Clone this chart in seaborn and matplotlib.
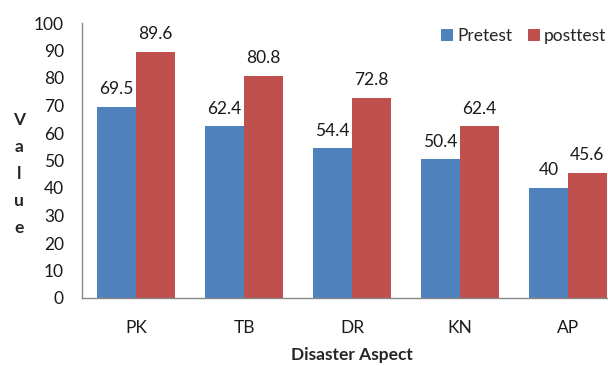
import matplotlib
matplotlib.use("Agg")
import matplotlib.pyplot as plt
import seaborn as sns
import pandas as pd

categories = ["PK", "TB", "DR", "KN", "AP"]
pretest = [69.5, 62.4, 54.4, 50.4, 40]
posttest = [89.6, 80.8, 72.8, 62.4, 45.6]
series_names = ["Pretest", "posttest"]
colors = ["#4F81BD", "#C0504D"]
y_ticks = list(range(0, 101, 10))

df = pd.DataFrame({
    "cat": categories * 2,
    "val": pretest + posttest,
    "series": [series_names[0]] * len(categories) + [series_names[1]] * len(categories),
})

sns.set_style("white")
plt.rcParams["font.family"] = ["Lato", "DejaVu Sans"]

fig = plt.figure(figsize=(6.08, 3.66), dpi=100)
ax = fig.add_axes([82/608, 68/366, 540/608, 275/366])
sns.barplot(data=df, x="cat", y="val", hue="series", palette=colors,
            width=0.72, saturation=1, ax=ax, errorbar=None, linewidth=0)

for cont, vals in zip(ax.containers, [pretest, posttest]):
    ax.bar_label(cont, labels=[f"{v:g}" for v in vals], padding=7, fontsize=12.5, color="#1a1a1a")

ax.set_ylim(0, 100)
ax.set_yticks(y_ticks)
ax.tick_params(axis="both", length=0, labelsize=12.5, colors="#1a1a1a")
ax.tick_params(axis="y", pad=13)
ax.tick_params(axis="x", pad=16)
ax.set_xlim(-0.5, 4.5)
for s in ["top", "right"]:
    ax.spines[s].set_visible(False)
for s in ["left", "bottom"]:
    ax.spines[s].set_color("#888888")
    ax.spines[s].set_linewidth(1)

ax.set_xlabel("Disaster Aspect", fontsize=12.5, fontweight="bold", labelpad=8)
ax.set_ylabel("")
fig.text(19/608, 1 - 174/366, "V\na\nl\nu\ne", fontsize=12.5, fontweight="bold",
         ha="center", va="center", linespacing=1.85)

leg = ax.legend(loc="upper right", bbox_to_anchor=(1.0, 1.037), ncol=2, frameon=False,
                fontsize=12.5, handlelength=0.7, handleheight=0.7, handletextpad=0.25,
                columnspacing=0.9)
leg.set_title(None)

fig.savefig("out.png", dpi=100)
